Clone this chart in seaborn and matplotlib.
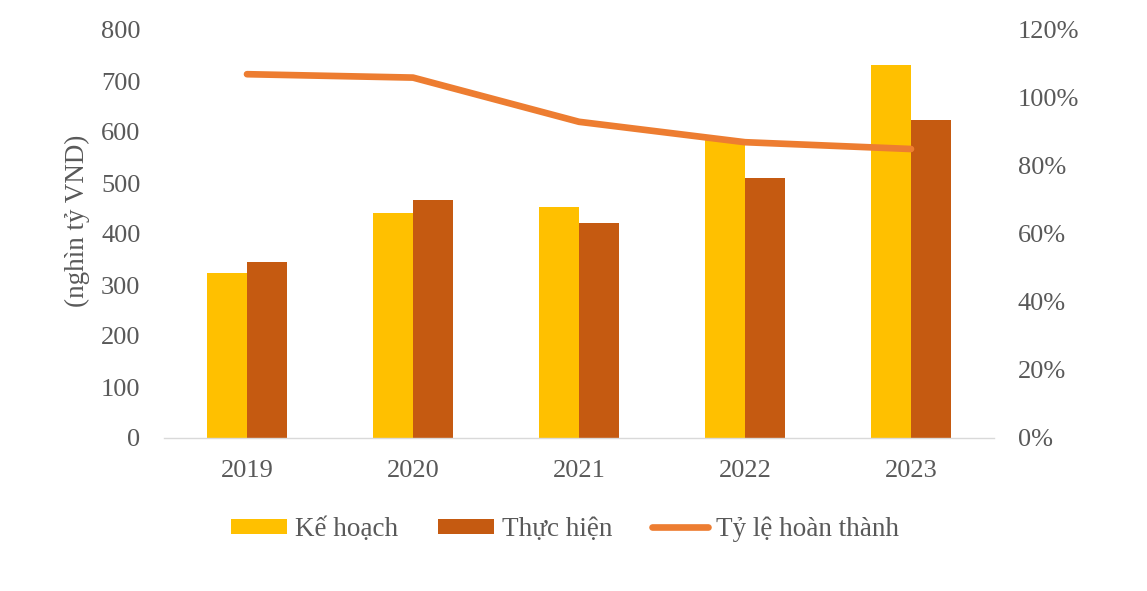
import numpy as np
import pandas as pd
import matplotlib
matplotlib.use("Agg")
import matplotlib.pyplot as plt
import seaborn as sns
from matplotlib.patches import Patch
from matplotlib.lines import Line2D
from matplotlib.ticker import FuncFormatter

years = ["2019", "2020", "2021", "2022", "2023"]
ke_hoach = [324, 441, 453, 584, 731]
thuc_hien = [345, 467, 422, 510, 624]
ty_le = [107, 106, 93, 87, 85]

series_names = ["Kế hoạch", "Thực hiện"]
line_name = "Tỷ lệ hoàn thành"
ylabel = "(nghìn tỷ VND)"

c_kh = "#FFC000"
c_th = "#C55A11"
c_line = "#ED7D31"
txt = "#595959"

sns.set_theme(style="white")
plt.rcParams["font.family"] = ["Liberation Serif", "DejaVu Serif"]

df = pd.DataFrame({
    "year": years * 2,
    "value": ke_hoach + thuc_hien,
    "series": [series_names[0]] * len(years) + [series_names[1]] * len(years),
})
df_line = pd.DataFrame({"pos": np.arange(len(years)), "rate": ty_le})

fig = plt.figure(figsize=(11.47, 5.91), dpi=100)
ax = fig.add_axes([164 / 1147, (591 - 438) / 591, 830 / 1147, 408 / 591])

sns.barplot(data=df, x="year", y="value", hue="series", order=years,
            hue_order=series_names, palette=[c_kh, c_th], width=0.476,
            gap=0, saturation=1, ax=ax, legend=False,
            linewidth=0, edgecolor="none")
ax.set_xlim(-0.5, len(years) - 0.5)
ax.set_ylim(0, 800)
ax.set_yticks(np.arange(0, 801, 100))
ax.set_xlabel("")
ax.set_ylabel("")
ax.tick_params(axis="both", labelsize=19, colors=txt, length=0)
ax.tick_params(axis="x", pad=16)
ax.tick_params(axis="y", pad=17)
for s in ["top", "right", "left"]:
    ax.spines[s].set_visible(False)
ax.spines["bottom"].set_color("#D9D9D9")
ax.spines["bottom"].set_linewidth(1)

fig.text(77.5 / 1147, 1 - 220.5 / 591, ylabel, rotation=90, ha="center",
         va="center", fontsize=19.5, color=txt)

ax2 = ax.twinx()
sns.lineplot(data=df_line, x="pos", y="rate", color=c_line, linewidth=4.8,
             ax=ax2, solid_capstyle="round", solid_joinstyle="round")
ax2.set_ylim(0, 120)
ax2.set_yticks(np.arange(0, 121, 20))
ax2.yaxis.set_major_formatter(FuncFormatter(lambda v, p: f"{int(v)}%"))
ax2.set_ylabel("")
ax2.tick_params(axis="y", labelsize=19, colors=txt, length=0, pad=17)
for s in ["top", "right", "left", "bottom"]:
    ax2.spines[s].set_visible(False)
ax2.set_xlim(-0.5, len(years) - 0.5)

handles = [Patch(facecolor=c_kh, edgecolor="none"),
           Patch(facecolor=c_th, edgecolor="none"),
           Line2D([0], [0], color=c_line, linewidth=4.8, solid_capstyle="round")]
labels = series_names + [line_name]
leg = fig.legend(handles, labels, loc="center", bbox_to_anchor=(565 / 1147, 1 - 529 / 591),
                 ncol=3, frameon=False, fontsize=19.5, handlelength=2.07,
                 handleheight=0.48, handletextpad=0.3, columnspacing=1.45)
for t in leg.get_texts():
    t.set_color(txt)

fig.savefig("out.png", dpi=100)
